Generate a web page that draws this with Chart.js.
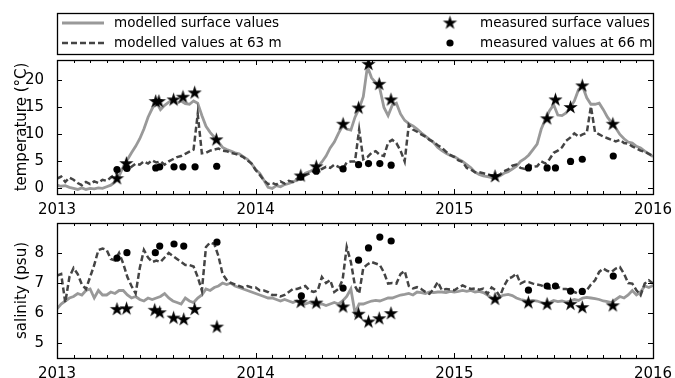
<!DOCTYPE html>
<html>
<head>
<meta charset="utf-8">
<script src="https://cdn.jsdelivr.net/npm/chart.js@4.4.1/dist/chart.umd.min.js"></script>
<style>
  html, body { margin: 0; padding: 0; background: #fff; }
  #wrap { position: relative; width: 675px; height: 378px; }
  #wrap canvas { position: absolute; left: 0; top: 0; }
</style>
</head>
<body>
<div id="wrap">
  <canvas id="tempCanvas" width="675" height="378"></canvas>
  <canvas id="salCanvas" width="675" height="378"></canvas>
</div>
<script>
// model output: one value every quarter month, starting 1 Jan 2013
const modelStart = 2013;
const modelStep = 1 / 48;

const tempSurface = [
  0.6, 0.4, 0.5, 0.2, 0.0, -0.2, 0.1, -0.2, 0.0, -0.1, 0.1, 0.0,
  0.3, 0.6, 1.2, 2.3, 4.0, 5.3, 6.6, 7.8, 9.2, 11.0, 13.2, 14.8,
  16.0, 14.6, 15.4, 16.0, 16.4, 15.8, 16.2, 15.7, 15.6, 16.2, 15.8, 13.5,
  11.5, 10.4, 9.5, 8.6, 7.6, 7.2, 6.9, 6.6, 6.4, 5.9, 5.4, 4.6,
  3.5, 2.8, 1.5, 0.2, 0.0, 0.5, 0.3, 0.7, 0.9, 1.2, 1.6, 2.0,
  2.8, 3.1, 3.5, 4.0, 4.9, 6.0, 7.5, 8.6, 10.2, 11.6, 11.0, 10.8,
  13.2, 14.8, 17.0, 22.6, 20.5, 19.6, 18.5, 15.0, 13.5, 15.4, 15.8, 13.8,
  12.6, 12.0, 11.6, 11.0, 10.3, 9.7, 9.1, 8.5, 7.6, 7.0, 6.5, 6.1,
  5.9, 5.4, 5.0, 4.4, 3.8, 3.0, 2.6, 2.3, 2.2, 2.0, 2.2, 2.3,
  2.8, 3.1, 3.6, 4.1, 5.0, 5.5, 6.2, 7.2, 8.2, 11.0, 12.8, 14.4,
  15.5, 13.6, 13.5, 14.0, 15.0, 16.2, 18.3, 18.9, 16.8, 15.6, 15.6, 15.8,
  14.6, 13.2, 12.2, 11.2, 10.0, 9.2, 8.6, 8.4, 7.8, 7.5, 6.9, 6.4,
  5.9
];
const temp63 = [
  1.8, 2.2, 1.2, 2.0, 1.6, 1.0, 0.6, 1.2, 0.8, 1.3, 1.0, 1.6,
  1.4, 2.0, 2.6, 3.2, 3.7, 3.4, 4.0, 4.6, 4.4, 5.0, 4.6, 5.2,
  4.8, 5.0, 4.4, 5.0, 5.4, 5.8, 6.0, 6.4, 6.8, 7.2, 13.8, 6.5,
  6.6, 7.0, 7.2, 7.4, 7.0, 6.9, 6.6, 6.4, 6.2, 5.8, 5.2, 4.6,
  3.4, 2.5, 1.5, 0.8, 1.0, 0.7, 1.3, 0.9, 1.4, 1.2, 1.8, 2.2,
  2.4, 2.8, 3.2, 3.4, 3.6, 4.0, 3.8, 4.4, 4.0, 3.5, 4.8, 5.0,
  5.0, 10.9, 5.4, 5.8, 6.6, 6.9, 6.2, 6.0, 8.5, 9.0, 8.4, 7.0,
  5.0, 11.8, 10.9, 10.5, 10.0, 9.6, 9.0, 8.6, 8.0, 7.5, 6.8, 6.2,
  5.8, 5.2, 4.9, 3.8, 3.5, 3.0, 3.0, 2.8, 2.6, 2.4, 2.2, 2.6,
  3.2, 3.5, 4.2, 4.4, 3.8, 3.6, 4.4, 4.0, 4.1, 5.0, 4.6, 5.4,
  6.6, 7.0, 7.6, 8.8, 9.4, 10.2, 9.6, 10.0, 10.3, 15.2, 10.4, 10.0,
  9.6, 9.3, 9.0, 8.7, 9.0, 8.4, 8.3, 7.8, 7.4, 7.0, 6.8, 6.4,
  6.0
];
const salSurface = [
  6.14, 6.3, 6.4, 6.5, 6.55, 6.65, 6.6, 6.75, 6.8, 6.5, 6.75, 6.6,
  6.6, 6.7, 6.65, 6.75, 6.75, 6.6, 6.5, 6.55, 6.45, 6.4, 6.5, 6.45,
  6.5, 6.55, 6.65, 6.5, 6.4, 6.35, 6.3, 6.5, 6.4, 6.35, 6.5, 6.6,
  6.8, 6.75, 6.85, 6.9, 7.0, 6.95, 7.0, 6.9, 6.85, 6.8, 6.75, 6.7,
  6.65, 6.6, 6.55, 6.5, 6.5, 6.45, 6.4, 6.45, 6.4, 6.35, 6.4, 6.35,
  6.3, 6.35, 6.3, 6.3, 6.3, 6.25, 6.3, 6.35, 6.3, 6.4, 6.55, 6.8,
  6.0, 6.3, 6.3, 6.35, 6.4, 6.42, 6.4, 6.45, 6.5, 6.5, 6.55, 6.6,
  6.62, 6.65, 6.6, 6.7, 6.68, 6.65, 6.7, 6.68, 6.7, 6.7, 6.68, 6.72,
  6.7, 6.72, 6.75, 6.72, 6.75, 6.7, 6.72, 6.68, 6.6, 6.5, 6.45, 6.55,
  6.6, 6.62, 6.58, 6.5, 6.45, 6.42, 6.4, 6.42, 6.4, 6.35, 6.3, 6.35,
  6.42, 6.38, 6.4, 6.36, 6.4, 6.45, 6.42, 6.5, 6.52, 6.5, 6.48, 6.45,
  6.4, 6.38, 6.35, 6.45, 6.55, 6.5, 6.6, 6.75, 6.6, 6.7, 6.9, 6.85,
  6.92
];
const sal63 = [
  7.25, 7.3, 6.35, 7.2, 7.5, 7.3, 6.95, 6.8, 7.2, 7.6, 8.1, 8.15,
  8.1, 7.8, 7.75, 8.0, 7.65, 7.2, 6.9, 6.65, 7.5, 8.1, 7.85, 7.7,
  7.75, 7.7, 7.85, 8.0, 7.9, 7.8, 7.7, 7.6, 7.6, 7.55, 7.2, 6.75,
  8.2, 8.35, 8.3, 7.9, 7.3, 7.1, 7.0, 6.95, 6.9, 6.85, 6.9, 6.85,
  6.85, 6.75, 6.75, 6.7, 6.6, 6.6, 6.55, 6.6, 6.7, 6.8, 6.8, 6.85,
  6.9, 6.75, 6.7, 6.75, 7.2, 7.0, 7.1, 6.7, 6.8, 7.1, 8.2, 7.7,
  6.9, 6.65, 7.5, 7.62, 7.7, 7.65, 7.6, 7.35, 6.98, 7.0, 6.98, 7.3,
  7.4, 6.9, 6.82, 6.86, 6.8, 6.7, 6.64, 6.8, 7.03, 6.76, 6.8, 6.78,
  6.76, 6.85, 6.92, 6.85, 6.8, 6.82, 6.78, 6.81, 6.64, 6.85, 6.76, 6.55,
  6.9, 7.14, 7.2, 7.31, 6.98, 7.05, 7.03, 6.98, 6.95, 6.92, 6.85, 6.81,
  6.85, 6.87, 6.8, 6.8, 6.76, 6.7, 6.64, 6.7, 6.76, 6.95, 7.09, 7.37,
  7.48, 7.4, 7.37, 7.48, 7.53, 7.31, 7.0, 6.98, 6.76, 6.59, 6.98, 7.09,
  6.98
];

// CTD casts (decimal year)
const tempStarDates = [2013.302, 2013.349, 2013.497, 2013.513, 2013.587, 2013.634, 2013.693, 2013.802,
  2014.227, 2014.305, 2014.440, 2014.518, 2014.568, 2014.622, 2014.681,
  2015.205, 2015.467, 2015.509, 2015.585, 2015.644, 2015.798];
const tempStars = [1.8, 4.6, 16.1, 16.1, 16.4, 16.9, 17.7, 9.0,
  2.3, 4.0, 11.9, 14.9, 23.0, 19.3, 16.4,
  2.2, 12.9, 16.4, 15.0, 19.0, 11.9];
const tempDotDates = [2013.302, 2013.352, 2013.497, 2013.517, 2013.589, 2013.634, 2013.695, 2013.804,
  2014.227, 2014.305, 2014.440, 2014.518, 2014.568, 2014.625, 2014.682,
  2015.373, 2015.467, 2015.509, 2015.585, 2015.644, 2015.800];
const tempDots = [3.5, 3.7, 3.8, 4.0, 4.0, 4.0, 4.0, 4.1,
  2.1, 3.2, 3.6, 4.4, 4.6, 4.6, 4.3,
  3.8, 3.8, 3.8, 5.0, 5.4, 6.0];

const salStarDates = [2013.302, 2013.350, 2013.492, 2013.517, 2013.587, 2013.638, 2013.693, 2013.805,
  2014.227, 2014.305, 2014.440, 2014.518, 2014.568, 2014.622, 2014.681,
  2015.205, 2015.373, 2015.467, 2015.585, 2015.644, 2015.798];
const salStars = [6.12, 6.14, 6.09, 6.01, 5.83, 5.78, 6.12, 5.53,
  6.36, 6.33, 6.20, 5.96, 5.70, 5.81, 5.98,
  6.46, 6.34, 6.29, 6.29, 6.18, 6.24];
const salDotDates = [2013.302, 2013.352, 2013.495, 2013.517, 2013.589, 2013.638, 2013.805,
  2014.230, 2014.440, 2014.518, 2014.568, 2014.625, 2014.682,
  2015.373, 2015.467, 2015.509, 2015.585, 2015.644, 2015.800];
const salDots = [7.83, 8.01, 8.01, 8.23, 8.30, 8.23, 8.36,
  6.57, 6.83, 7.76, 8.17, 8.53, 8.40,
  6.76, 6.90, 6.90, 6.73, 6.72, 7.23];

const yearTicks = [2013, 2014, 2015, 2016];
const tempTicks = [0, 5, 10, 15, 20];
const salTicks = [5, 6, 7, 8];

const FONT = 'DejaVu Sans';
const GREY = '#999999';
const DARK = '#444444';

const series = vals => vals.map((v, i) => ({ x: modelStart + i * modelStep, y: v }));
const points = (dates, vals) => dates.map((d, i) => ({ x: d, y: vals[i] }));

// filled five-point star used as marker image
function makeStar(r) {
  const c = document.createElement('canvas');
  const s = Math.ceil(r * 2 + 2);
  c.width = c.height = s;
  const g = c.getContext('2d');
  g.translate(s / 2, s / 2);
  g.beginPath();
  for (let i = 0; i < 10; i++) {
    const rr = i % 2 ? r * 0.382 : r;
    const a = -Math.PI / 2 + i * Math.PI / 5;
    g.lineTo(rr * Math.cos(a), rr * Math.sin(a));
  }
  g.closePath();
  g.fillStyle = '#000';
  g.fill();
  return c;
}
const starImg = makeStar(7.5);

// box around the plot area plus inward month / value ticks
const framePlugin = {
  id: 'frame',
  afterDraw(chart) {
    const { ctx, chartArea: a, scales: { x, y } } = chart;
    ctx.save();
    ctx.strokeStyle = '#000';
    ctx.lineWidth = 1;
    ctx.beginPath();
    for (let m = 1; m < 36; m++) {
      const px = Math.round(x.getPixelForValue(2013 + m / 12)) + 0.5;
      const len = m % 12 === 0 ? 5 : 3;
      ctx.moveTo(px, a.bottom); ctx.lineTo(px, a.bottom - len);
      ctx.moveTo(px, a.top); ctx.lineTo(px, a.top + len);
    }
    y.ticks.forEach(t => {
      const py = Math.round(y.getPixelForValue(t.value)) + 0.5;
      ctx.moveTo(a.left, py); ctx.lineTo(a.left + 5, py);
      ctx.moveTo(a.right, py); ctx.lineTo(a.right - 5, py);
    });
    ctx.stroke();
    ctx.lineWidth = 1.3;
    ctx.strokeRect(Math.round(a.left) + 0.5, Math.round(a.top) + 0.5,
      Math.round(a.right - a.left), Math.round(a.bottom - a.top));
    ctx.restore();
  }
};

// two-column legend box above the temperature panel
const legendPlugin = {
  id: 'legendBox',
  afterDraw(chart) {
    const { ctx, chartArea: a } = chart;
    const top = 13, bottom = 54;
    const rows = [23, 43];
    const cols = [{ x0: 62, x1: 104, mark: 83, text: 114 }, { x0: 440, x1: 460, mark: 450, text: 480 }];
    ctx.save();
    ctx.lineWidth = 1.3;
    ctx.strokeStyle = '#000';
    ctx.strokeRect(Math.round(a.left) + 0.5, top + 0.5, Math.round(a.right - a.left), bottom - top);
    ctx.font = '13.5px "' + FONT + '"';
    ctx.textBaseline = 'middle';
    ctx.fillStyle = '#000';
    chart.data.datasets.forEach((ds, i) => {
      const col = cols[Math.floor(i / 2)];
      const yy = rows[i % 2];
      if (ds.showLine === false) {
        if (ds.pointStyle === 'circle') {
          ctx.beginPath();
          ctx.arc(col.mark, yy, ds.pointRadius, 0, Math.PI * 2);
          ctx.fill();
        } else {
          ctx.drawImage(ds.pointStyle, col.mark - ds.pointStyle.width / 2, yy - ds.pointStyle.height / 2);
        }
      } else {
        ctx.save();
        ctx.strokeStyle = ds.borderColor;
        ctx.lineWidth = ds.borderWidth;
        ctx.setLineDash(ds.borderDash || []);
        ctx.beginPath();
        ctx.moveTo(col.x0, yy);
        ctx.lineTo(col.x1, yy);
        ctx.stroke();
        ctx.restore();
      }
      ctx.fillText(ds.label, col.text, yy);
    });
    ctx.restore();
  }
};

function makePanel(canvasId, cfg) {
  return new Chart(document.getElementById(canvasId), {
    type: 'line',
    data: {
      datasets: [
        { label: 'modelled surface values', data: series(cfg.surface), borderColor: GREY,
          borderWidth: 2.8, pointRadius: 0, tension: 0, order: 4 },
        { label: 'modelled values at 63 m', data: series(cfg.deep), borderColor: DARK,
          borderWidth: 2.5, borderDash: [6, 3], pointRadius: 0, tension: 0, order: 3 },
        { label: 'measured surface values', data: points(cfg.starDates, cfg.stars), showLine: false,
          pointStyle: starImg, pointRadius: 7.5, order: 1 },
        { label: 'measured values at 66 m', data: points(cfg.dotDates, cfg.dots), showLine: false,
          pointStyle: 'circle', pointRadius: 3.6, pointBackgroundColor: '#000', pointBorderWidth: 0, order: 2 }
      ]
    },
    options: {
      responsive: false,
      animation: false,
      events: [],
      layout: { padding: { top: cfg.padTop, right: 22, left: 0, bottom: cfg.padBottom } },
      plugins: { legend: { display: false }, tooltip: { enabled: false } },
      scales: {
        x: {
          type: 'linear', min: 2013, max: 2016,
          afterBuildTicks: s => { s.ticks = yearTicks.map(v => ({ value: v })); },
          afterFit: s => { s.height = 20; },
          grid: { display: false },
          border: { display: false },
          ticks: { padding: -1, color: '#000', font: { family: FONT, size: 15 }, maxRotation: 0,
            autoSkip: false, callback: v => String(v) }
        },
        y: {
          min: cfg.yMin, max: cfg.yMax,
          afterBuildTicks: s => { s.ticks = cfg.yTicks.map(v => ({ value: v })); },
          afterFit: s => { s.width = 57; },
          grid: { display: false },
          border: { display: false },
          title: { display: true, text: cfg.title, color: '#000', font: { family: FONT, size: 15 },
            padding: { top: 13, bottom: 0 } },
          ticks: { padding: 5, color: '#000', font: { family: FONT, size: 15 } }
        }
      }
    },
    plugins: cfg.legend ? [framePlugin, legendPlugin] : [framePlugin]
  });
}

makePanel('tempCanvas', {
  surface: tempSurface, deep: temp63,
  starDates: tempStarDates, stars: tempStars, dotDates: tempDotDates, dots: tempDots,
  yMin: -1.04, yMax: 23.8, yTicks: tempTicks, title: 'temperature (°C)',
  padTop: 60, padBottom: 164, legend: true
});

makePanel('salCanvas', {
  surface: salSurface, deep: sal63,
  starDates: salStarDates, stars: salStars, dotDates: salDotDates, dots: salDots,
  yMin: 4.5, yMax: 9.0, yTicks: salTicks, title: 'salinity (psu)',
  padTop: 223, padBottom: 0, legend: false
});
</script>
</body>
</html>
